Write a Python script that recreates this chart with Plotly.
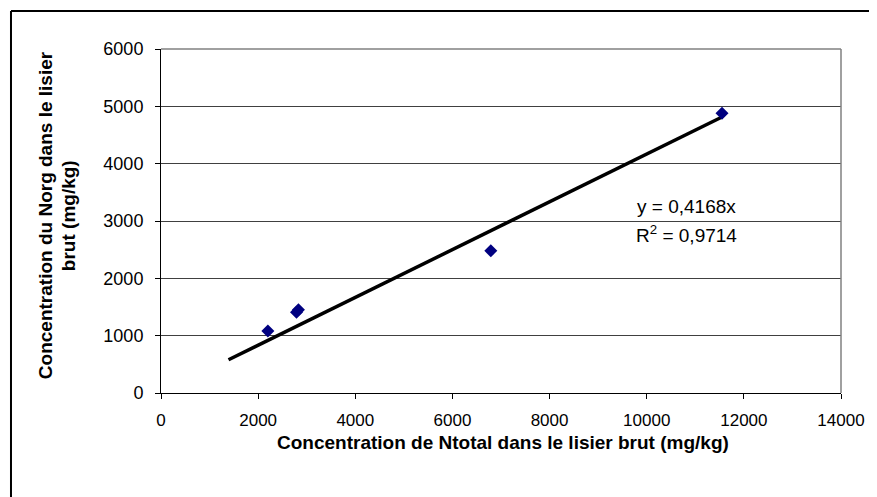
import plotly.graph_objects as go

# data
n_total = [2200, 2790, 2830, 6790, 11550]
n_org = [1080, 1410, 1450, 2480, 4880]

slope = 0.4168
r2 = 0.9714
trend_x = [1390, 11550]
trend_y = [slope * v for v in trend_x]

x_ticks = [0, 2000, 4000, 6000, 8000, 10000, 12000, 14000]
y_ticks = [0, 1000, 2000, 3000, 4000, 5000, 6000]

font = "Liberation Sans, Arial, sans-serif"

fig = go.Figure()
fig.add_trace(go.Scatter(x=trend_x, y=trend_y, mode="lines",
                         line=dict(color="black", width=3.5),
                         hoverinfo="skip", showlegend=False))
fig.add_trace(go.Scatter(x=n_total, y=n_org, mode="markers",
                         marker=dict(symbol="diamond", size=10, color="#000080"),
                         showlegend=False))

# the page body adds 8px around the figure, so the figure is 8px smaller
fig.update_layout(
    width=869, height=489,
    margin=dict(l=153, r=36, t=41, b=104),
    paper_bgcolor="white", plot_bgcolor="white",
    font=dict(family=font, size=18, color="black"),
    xaxis=dict(range=[0, 14000], tickvals=x_ticks, tickformat="d",
               showgrid=False, tickfont=dict(size=17),
               showline=True, linecolor="black", linewidth=1,
               ticks="outside", ticklen=5, tickcolor="black",
               zeroline=False, ticklabelstandoff=7),
    yaxis=dict(range=[0, 6000], tickvals=y_ticks, tickformat="d",
               showgrid=True, gridcolor="#404040", gridwidth=1,
               showline=True, linecolor="black", linewidth=1,
               ticks="outside", ticklen=5, tickcolor="black",
               zeroline=False, ticklabelstandoff=8),
)

# plot area border (top and right, grey)
fig.add_shape(type="line", xref="paper", yref="paper", x0=0, x1=1, y0=1, y1=1,
              line=dict(color="#808080", width=1.5))
fig.add_shape(type="line", xref="paper", yref="paper", x0=1, x1=1, y0=0, y1=1,
              line=dict(color="#808080", width=1.5))

# chart frame (left and top edges visible)
fig.add_shape(type="line", xref="paper", yref="paper", x0=-0.2206, x1=-0.2206,
              y0=-0.31, y1=1.1105, line=dict(color="black", width=2))
fig.add_shape(type="line", xref="paper", yref="paper", x0=-0.2206, x1=1.06,
              y0=1.1105, y1=1.1105, line=dict(color="black", width=2))

fig.add_annotation(text="<b>Concentration de Ntotal dans le lisier brut (mg/kg)</b>",
                   xref="paper", yref="paper", x=0.503, y=-0.143,
                   xanchor="center", yanchor="middle", showarrow=False,
                   font=dict(family=font, size=19, color="black"))
ytitle_font = dict(family=font, size=19, color="black")
fig.add_annotation(text="<b>Concentration du Norg dans le lisier</b>",
                   xref="paper", yref="paper", x=-0.1706, y=0.517, textangle=-90,
                   xanchor="center", yanchor="middle", showarrow=False,
                   font=ytitle_font)
fig.add_annotation(text="<b>brut (mg/kg)</b>",
                   xref="paper", yref="paper", x=-0.1368, y=0.517, textangle=-90,
                   xanchor="center", yanchor="middle", showarrow=False,
                   font=ytitle_font)

fig.add_annotation(text="y = " + str(slope).replace(".", ",") + "x",
                   x=10825, y=3252, xanchor="center", yanchor="middle",
                   showarrow=False, font=dict(size=19))
fig.add_annotation(text="R<sup>2</sup> = " + str(r2).replace(".", ","),
                   x=10825, y=2765, xanchor="center", yanchor="middle",
                   showarrow=False, font=dict(size=19))

fig.write_html("out.html")
